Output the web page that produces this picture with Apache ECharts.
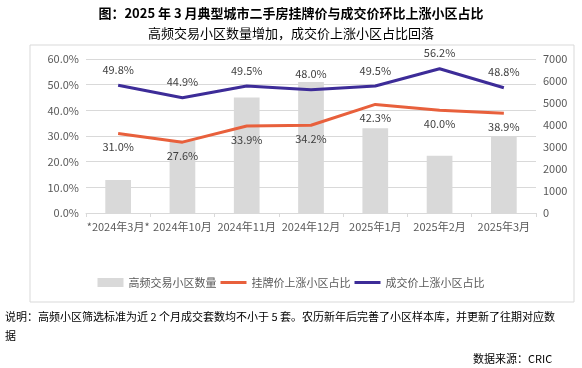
<!DOCTYPE html>
<html><head><meta charset="utf-8">
<script src="https://cdn.jsdelivr.net/npm/echarts@6/dist/echarts.min.js"></script>
<style>html,body{margin:0;padding:0;background:#fff}#c{width:582px;height:368px}</style>
</head><body><div id="c"></div>
<script>
const categories = ['*2024年3月*','2024年10月','2024年11月','2024年12月','2025年1月','2025年2月','2025年3月'];
const highFreqCount = [1500, 3300, 5250, 5950, 3850, 2600, 3450];
const listingUpShare = [31.0, 27.6, 33.9, 34.2, 42.3, 40.0, 38.9];
const dealUpShare = [49.8, 44.9, 49.5, 48.0, 49.5, 56.2, 48.8];
const leftTicks = {min: 0, max: 60, interval: 10};
const rightTicks = {min: 0, max: 7000, interval: 1000};

const FONT = '"Noto Sans CJK SC", "Microsoft YaHei", sans-serif';
const LINE_ICON = 'path://M0,0h26v3h-26z';
const chart = echarts.init(document.getElementById('c'));
chart.setOption({
  animation: false,
  textStyle: {fontFamily: FONT},
  title: [
    {text: '图：2025 年 3 月典型城市二手房挂牌价与成交价环比上涨小区占比', left: 'center', top: 2,
     textStyle: {fontSize: 13, fontWeight: 'bold', color: '#000', fontFamily: FONT}},
    {text: '高频交易小区数量增加，成交价上涨小区占比回落', left: 'center', top: 22,
     textStyle: {fontSize: 13, fontWeight: 'normal', color: '#000', fontFamily: FONT}}
  ],
  graphic: [
    {type: 'rect', shape: {x: 30, y: 45, width: 544, height: 257}, style: {fill: 'none', stroke: '#d9d9d9', lineWidth: 1}, z: -1},
    {type: 'text', left: 5, top: 311, style: {text: '说明：高频小区筛选标准为近 2 个月成交套数均不小于 5 套。农历新年后完善了小区样本库，并更新了往期对应数', fontSize: 11, fill: '#000', fontFamily: FONT}},
    {type: 'text', left: 5, top: 330, style: {text: '据', fontSize: 11, fill: '#000', fontFamily: FONT}},
    {type: 'text', left: 473, top: 353, style: {text: '数据来源：CRIC', fontSize: 11, fill: '#000', fontFamily: FONT}}
  ],
  grid: {left: 86, right: 46, top: 59, bottom: 155},
  legend: {
    bottom: 75, left: 'center', itemGap: 4, itemWidth: 26, itemHeight: 9,
    textStyle: {fontSize: 11, color: '#595959', fontFamily: FONT},
    data: [
      {name: '高频交易小区数量', icon: 'rect'},
      {name: '挂牌价上涨小区占比', icon: LINE_ICON},
      {name: '成交价上涨小区占比', icon: LINE_ICON}
    ]
  },
  xAxis: {
    type: 'category', data: categories,
    axisLine: {lineStyle: {color: '#d9d9d9'}},
    axisTick: {show: true, alignWithLabel: false, length: 4, lineStyle: {color: '#d9d9d9'}},
    axisLabel: {fontSize: 11, color: '#595959', margin: 8, interval: 0}
  },
  yAxis: [
    {type: 'value', min: leftTicks.min, max: leftTicks.max, interval: leftTicks.interval,
     axisLine: {show: false}, axisTick: {show: false},
     splitLine: {lineStyle: {color: '#d9d9d9'}},
     axisLabel: {fontSize: 11, color: '#595959', margin: 7, formatter: v => v.toFixed(1) + '%'}},
    {type: 'value', min: rightTicks.min, max: rightTicks.max, interval: rightTicks.interval,
     axisLine: {show: false}, axisTick: {show: false}, splitLine: {show: false},
     axisLabel: {fontSize: 11, color: '#595959', margin: 7, formatter: v => String(v)}}
  ],
  series: [
    {name: '高频交易小区数量', type: 'bar', yAxisIndex: 1, data: highFreqCount, barWidth: '40%',
     itemStyle: {color: '#d9d9d9'}, z: 1},
    {name: '挂牌价上涨小区占比', type: 'line', yAxisIndex: 0, data: listingUpShare,
     showSymbol: true, symbol: 'circle', symbolSize: 0.01, lineStyle: {color: '#e8603c', width: 3}, itemStyle: {color: '#e8603c'},
     label: {show: true, position: 'bottom', distance: 8, fontSize: 11, color: '#404040', formatter: p => p.value.toFixed(1) + '%'}, z: 3},
    {name: '成交价上涨小区占比', type: 'line', yAxisIndex: 0, data: dealUpShare,
     showSymbol: true, symbol: 'circle', symbolSize: 0.01, lineStyle: {color: '#3d2c98', width: 3}, itemStyle: {color: '#3d2c98'},
     label: {show: true, position: 'top', distance: 10, fontSize: 11, color: '#404040', formatter: p => p.value.toFixed(1) + '%'}, z: 4}
  ]
});
</script></body></html>
